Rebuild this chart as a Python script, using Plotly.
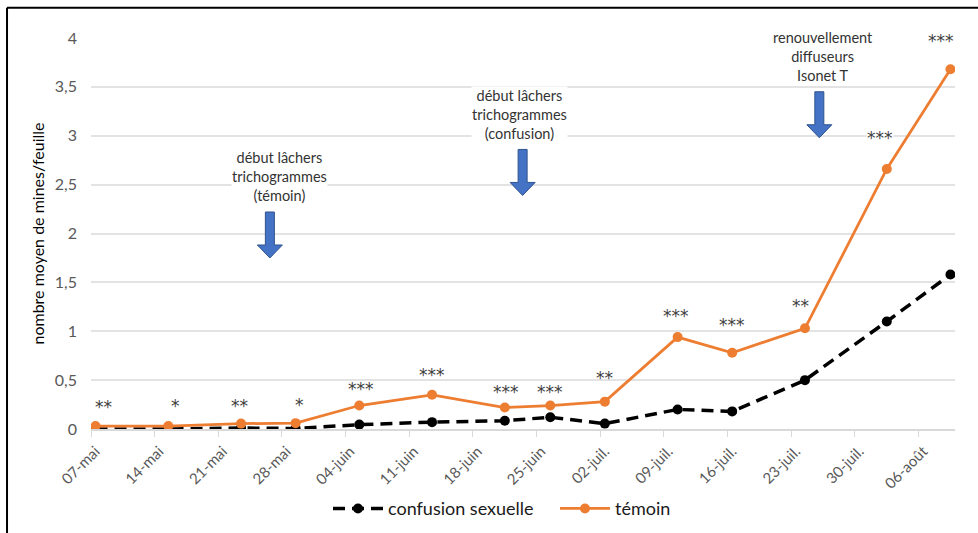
import plotly.graph_objects as go
import pandas as pd

# ---------------- data ----------------
dates = ["2018-05-07", "2018-05-15", "2018-05-23", "2018-05-29", "2018-06-05",
         "2018-06-13", "2018-06-21", "2018-06-26", "2018-07-02", "2018-07-10",
         "2018-07-16", "2018-07-24", "2018-08-02", "2018-08-09"]
confusion = [0.0, 0.0, 0.01, 0.005, 0.045, 0.07, 0.085, 0.12, 0.055, 0.20,
             0.18, 0.50, 1.10, 1.58]
temoin = [0.03, 0.03, 0.055, 0.06, 0.24, 0.35, 0.22, 0.24, 0.28, 0.94,
          0.78, 1.03, 2.66, 3.68]
signif = ["**", "*", "**", "*", "***", "***", "***", "***", "**", "***",
          "***", "**", "***", "***"]
signif_y = [0.26, 0.27, 0.27, 0.28, 0.44, 0.58, 0.41, 0.41, 0.55, 1.19,
            1.09, 1.29, 3.01, 4.0]
signif_dx = [8, 7, -2, 4, 2, 0, 1, 0, 0, -2, 0, -4, -7, -9]  # label offsets (px)

tick_dates = ["2018-05-07", "2018-05-14", "2018-05-21", "2018-05-28", "2018-06-04",
              "2018-06-11", "2018-06-18", "2018-06-25", "2018-07-02", "2018-07-09",
              "2018-07-16", "2018-07-23", "2018-07-30", "2018-08-06"]
tick_labels = ["07-mai", "14-mai", "21-mai", "28-mai", "04-juin", "11-juin",
               "18-juin", "25-juin", "02-juil.", "09-juil.", "16-juil.",
               "23-juil.", "30-juil.", "06-août"]

event_texts = ["début lâchers<br>trichogrammes<br>(témoin)",
               "début lâchers<br>trichogrammes<br>(confusion)",
               "renouvellement<br>diffuseurs<br>Isonet T"]
event_arrow_x = ["2018-05-26 16:00", "2018-06-23 11:00", "2018-07-26 02:00"]
event_arrow_top = [2.22, 2.86, 3.45]
event_text_x = ["2018-05-27 18:00", "2018-06-23 04:00", "2018-07-26 12:00"]
event_text_y = [2.58, 3.22, 3.81]

y_ticks = [0, 0.5, 1, 1.5, 2, 2.5, 3, 3.5, 4]

# ---------------- figure ----------------
half_day = pd.Timedelta(hours=12)
xd = pd.to_datetime(dates) + half_day  # points sit at the centre of their day

FONT = "Lato"
fig = go.Figure()
fig.add_trace(go.Scatter(
    x=xd, y=confusion, name="confusion sexuelle", mode="lines+markers",
    line=dict(color="#000000", width=3.5, dash="12px,7px"),
    marker=dict(color="#000000", size=10),
))
fig.add_trace(go.Scatter(
    x=xd, y=temoin, name="témoin", mode="lines+markers",
    line=dict(color="#ED7D31", width=2.75),
    marker=dict(color="#ED7D31", size=10),
))

# significance stars (white box only where they sit on a gridline)
for d, s, yy, dx in zip(xd, signif, signif_y, signif_dx):
    fig.add_annotation(x=d, y=yy, text=s, showarrow=False, xanchor="center",
                       yanchor="middle", yshift=-3, xshift=dx,
                       bgcolor="white" if yy >= 3 else "rgba(0,0,0,0)",
                       borderpad=0,
                       font=dict(family="DejaVu Sans", size=17, color="#404040"))

# event arrows and labels
arrow_path = "M -4.5,0 L 4.5,0 L 4.5,-33 L 12.5,-33 L 0,-46 L -12.5,-33 L -4.5,-33 Z"
for ax_, top, tx, ty, txt in zip(event_arrow_x, event_arrow_top, event_text_x,
                                 event_text_y, event_texts):
    fig.add_shape(type="path", xref="x", yref="y", xsizemode="pixel",
                  ysizemode="pixel", xanchor=ax_, yanchor=top, path=arrow_path,
                  fillcolor="#4472C4", line=dict(color="#2F528F", width=1))
    fig.add_annotation(x=tx, y=ty, text=txt, showarrow=False, xanchor="center",
                       yanchor="middle", bgcolor="white", borderpad=0,
                       font=dict(family=FONT, size=14.5, color="#333333"))

# y-axis title
fig.add_annotation(xref="paper", yref="paper", x=-0.0625, y=0.5,
                   text="nombre moyen de mines/feuille", textangle=-90,
                   showarrow=False, xanchor="center", yanchor="middle",
                   font=dict(family=FONT, size=16, color="#000000"))

# frame (top and left edges of the picture)
fig.add_shape(type="line", xref="paper", yref="paper", x0=-0.0972, x1=1.03,
              y0=1.0775, y1=1.0775, line=dict(color="black", width=2))
fig.add_shape(type="line", xref="paper", yref="paper", x0=-0.0972, x1=-0.0972,
              y0=1.0775, y1=-0.3, line=dict(color="black", width=2))

tick_mid = pd.to_datetime(tick_dates) + half_day
fig.update_layout(
    width=978, height=533,
    margin=dict(l=91, r=23, t=38, b=104, autoexpand=False),
    paper_bgcolor="white", plot_bgcolor="white",
    separators=", ",
    showlegend=True,
    legend=dict(orientation="h", x=0.2743, xanchor="left", y=-0.204,
                yanchor="middle", font=dict(family=FONT, size=18, color="#1a1a1a"),
                itemwidth=50, entrywidth=162, entrywidthmode="pixels",
                bgcolor="rgba(0,0,0,0)"),
    xaxis=dict(
        type="date", range=["2018-05-07", "2018-08-10"],
        tickmode="array", tickvals=tick_mid, ticktext=tick_labels,
        tickangle=-45, ticks="", showgrid=False,
        tickfont=dict(family=FONT, size=15, color="#595959"),
        ticklabelstandoff=6, automargin=False,
        showline=True, linecolor="#D9D9D9", linewidth=1.5,
        minor=dict(tickmode="array", tickvals=pd.to_datetime(tick_dates),
                   ticks="outside", ticklen=6, tickcolor="#D9D9D9",
                   showgrid=False),
        zeroline=False,
    ),
    yaxis=dict(
        range=[0, 4], tickmode="array", tickvals=y_ticks,
        showgrid=True, gridcolor="#E3E3E3", gridwidth=1.5,
        zeroline=False, showline=False, automargin=False,
        tickfont=dict(family=FONT, size=16, color="#595959"),
        ticklabelstandoff=13,
    ),
)

fig.write_html("out.html")
